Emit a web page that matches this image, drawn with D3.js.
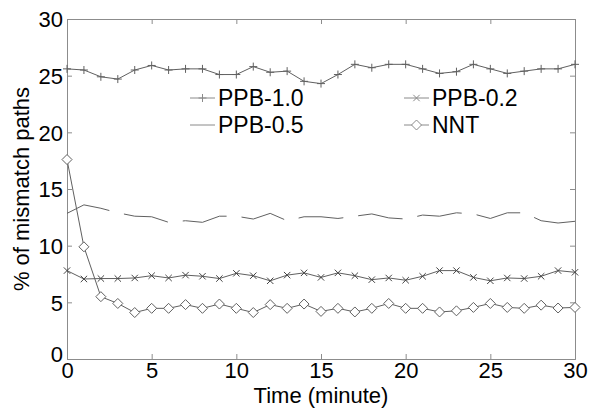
<!DOCTYPE html>
<html><head><meta charset="utf-8">
<script src="https://cdn.jsdelivr.net/npm/d3@7"></script>
<style>html,body{margin:0;padding:0;background:#fff;}svg{display:block;font-family:"Liberation Sans",Arial,sans-serif;}</style>
</head><body><svg id="c" width="592" height="409"></svg>
<script>
const time = d3.range(0, 31);
const ppb10 = [25.6,25.5,24.9,24.7,25.5,25.9,25.5,25.6,25.6,25.1,25.1,25.8,25.3,25.4,24.5,24.3,25.1,26.0,25.7,26.0,26.0,25.6,25.2,25.35,26.0,25.6,25.2,25.4,25.6,25.6,26.0];
const ppb05 = [12.85,13.6,13.3,12.9,12.6,12.55,12.06,12.2,12.06,12.6,12.6,12.35,12.85,12.2,12.55,12.55,12.4,12.6,12.8,12.45,12.35,12.7,12.6,12.9,12.8,12.4,12.9,12.9,12.2,12.0,12.15];
const ppb02 = [7.8,7.06,7.1,7.1,7.15,7.35,7.15,7.4,7.3,7.1,7.56,7.35,6.9,7.4,7.6,7.2,7.6,7.35,7.0,7.15,6.95,7.3,7.8,7.8,7.2,6.9,7.15,7.1,7.3,7.8,7.65];
const nnt = [17.6,9.9,5.5,4.9,4.1,4.47,4.47,4.8,4.47,4.85,4.47,4.1,4.8,4.47,4.85,4.2,4.47,4.15,4.47,4.9,4.47,4.47,4.15,4.25,4.55,4.9,4.55,4.47,4.75,4.5,4.55];
const xTicks = [0,5,10,15,20,25,30];
const yTicks = [0,5,10,15,20,25,30];
const seriesNames = ["PPB-1.0","PPB-0.2","PPB-0.5","NNT"];

const svg = d3.select("#c");
const L = 67, R = 575, T = 19, B = 359;
const x = d3.scaleLinear().domain([0,30]).range([L,R]);
const y = d3.scaleLinear().domain([0,30]).range([B,T]);
const frame = "#8c8c8c", lineC = "#606060";

const gx = svg.append("g").attr("transform",`translate(0,${B})`)
  .call(d3.axisBottom(x).tickValues(xTicks).tickSize(-5).tickPadding(6).tickFormat(d3.format("d")));
const gxt = svg.append("g").attr("transform",`translate(0,${T})`)
  .call(d3.axisTop(x).tickValues(xTicks).tickSize(-5).tickFormat(""));
const gy = svg.append("g").attr("transform",`translate(${L},0)`)
  .call(d3.axisLeft(y).tickValues(yTicks).tickSize(-5).tickPadding(4).tickFormat(d3.format("d")));
const gyr = svg.append("g").attr("transform",`translate(${R},0)`)
  .call(d3.axisRight(y).tickValues(yTicks).tickSize(-5).tickFormat(""));
[gx,gxt,gy,gyr].forEach(g=>{
  g.selectAll("path.domain").attr("stroke",frame).attr("stroke-width",1);
  g.selectAll(".tick line").attr("stroke",frame);
  g.selectAll("text").attr("fill","#000").style("font-size","22px").style("font-family","'Liberation Sans',Arial,sans-serif");
});
gx.selectAll(".tick text").attr("dy","0.6em");
gy.selectAll(".tick text").attr("dy","0.36em");
gy.selectAll(".tick").filter(d=>d===0).select("text").attr("dy","0.1em");

svg.append("text").attr("x",(L+R)/2).attr("y",403).attr("text-anchor","middle")
  .style("font-size","22px").text("Time (minute)");
svg.append("text").attr("transform",`translate(29,${(T+B)/2}) rotate(-90)`).attr("text-anchor","middle")
  .style("font-size","22px").text("% of mismatch paths");

const line = d3.line().x((d,i)=>x(time[i])).y(d=>y(d));
const plot = svg.append("g");

function markerPath(type, cx, cy){
  if(type==="plus"){const s=4;return `M${cx-s},${cy}H${cx+s}M${cx},${cy-s}V${cy+s}`;}
  if(type==="x"){const s=3.2;return `M${cx-s},${cy-s}L${cx+s},${cy+s}M${cx-s},${cy+s}L${cx+s},${cy-s}`;}
  if(type==="diamond"){const s=5;return `M${cx},${cy-s}L${cx+s},${cy}L${cx},${cy+s}L${cx-s},${cy}Z`;}
  return "";
}

function drawSeries(vals, type, dash){
  plot.append("path").datum(vals).attr("d",line).attr("fill","none").attr("stroke",lineC)
    .attr("stroke-width",1).attr("stroke-dasharray",dash||null);
  if(type){
    plot.selectAll(null).data(vals).enter().append("path")
      .attr("d",(d,i)=>markerPath(type,x(time[i]),y(d)))
      .attr("fill",type==="diamond"?"#fff":"none").attr("stroke",type==="x"?"#444":lineC).attr("stroke-width",1);
  }
}
drawSeries(ppb10,"plus");
drawSeries(ppb05,null,"45,15");
drawSeries(ppb02,"x");
drawSeries(nnt,"diamond");

const legend = [
  {name:seriesNames[0], type:"plus", lx:190, ty:98},
  {name:seriesNames[1], type:"x", lx:404, ty:98},
  {name:seriesNames[2], type:null, lx:190, ty:125},
  {name:seriesNames[3], type:"diamond", lx:404, ty:125}
];
legend.forEach(it=>{
  const g = svg.append("g");
  g.append("line").attr("x1",it.lx).attr("x2",it.lx+25).attr("y1",it.ty).attr("y2",it.ty).attr("stroke","#8a8a8a");
  if(it.type) g.append("path").attr("d",markerPath(it.type,it.lx+12.5,it.ty))
     .attr("fill",it.type==="diamond"?"#fff":"none").attr("stroke","#8a8a8a");
  g.append("text").attr("x",it.lx+28).attr("y",it.ty).attr("dy","0.36em").style("font-size","23px").text(it.name);
});
</script></body></html>
